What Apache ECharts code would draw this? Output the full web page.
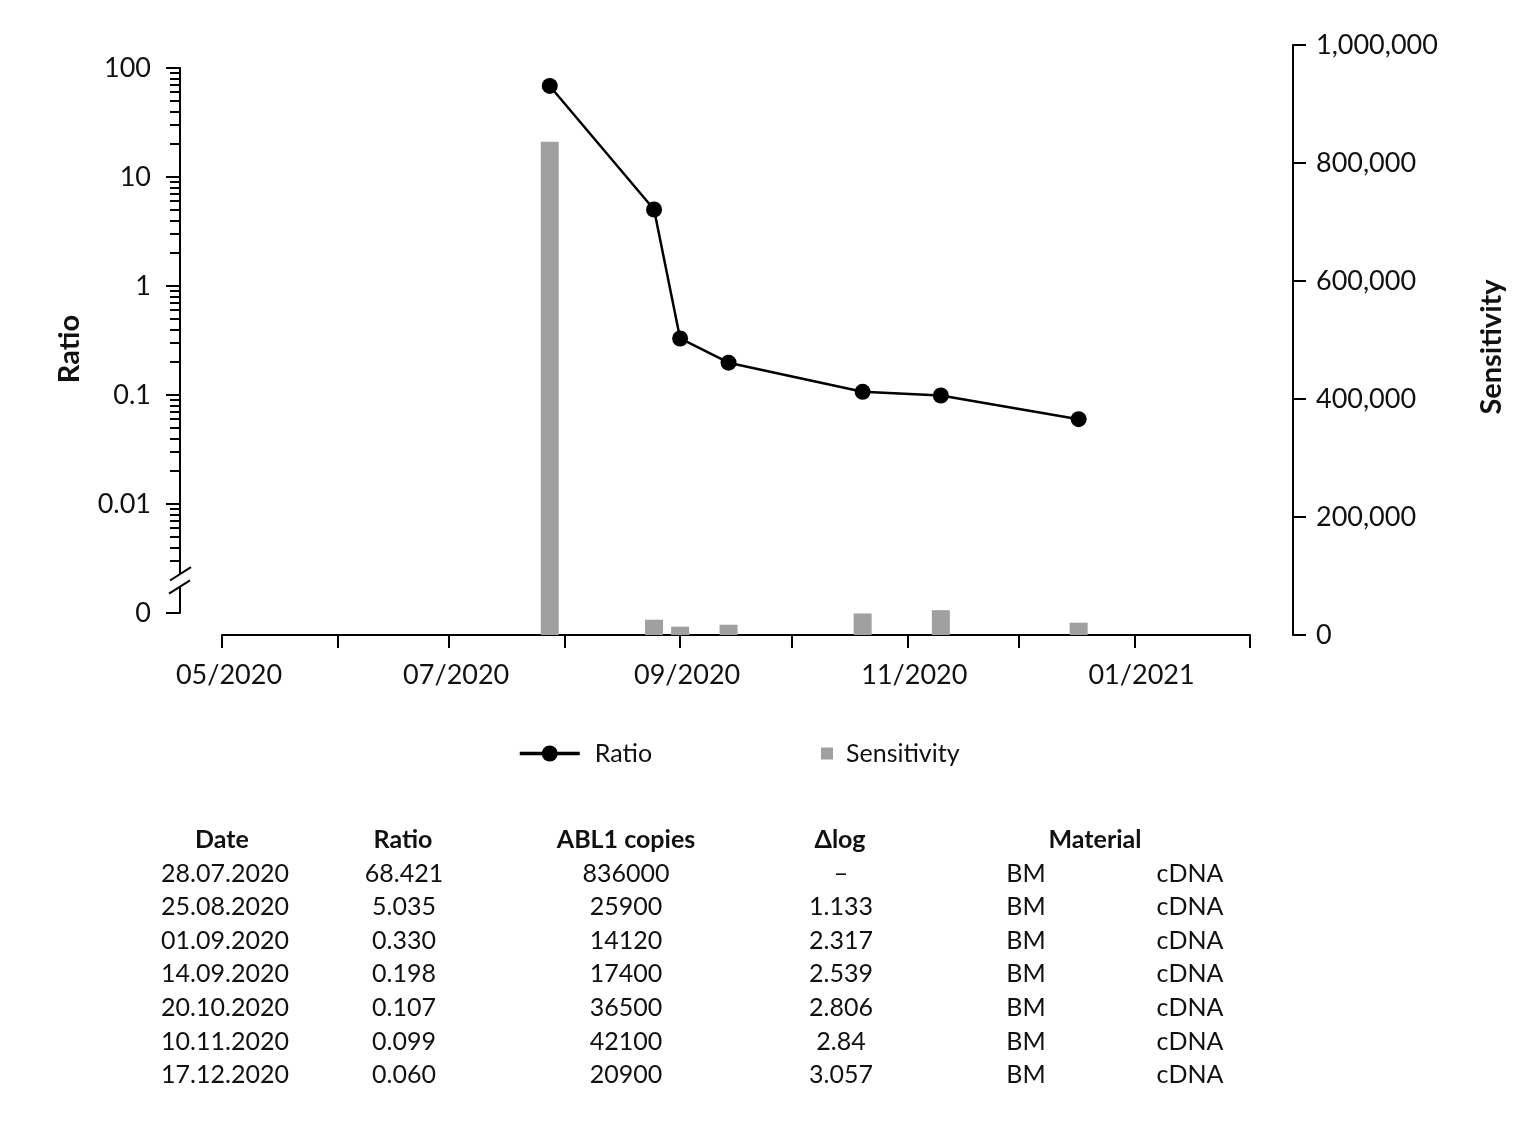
<!DOCTYPE html>
<html>
<head>
<meta charset="utf-8">
<script src="https://cdn.jsdelivr.net/npm/echarts@6/dist/echarts.min.js"></script>
<style>
html,body{margin:0;padding:0;background:#fff;}
#c{width:1540px;height:1129px;}
</style>
</head>
<body>
<div id="c"></div>
<script>
// ---- data ----
const sampleDates = ['2020-07-28','2020-08-25','2020-09-01','2020-09-14','2020-10-20','2020-11-10','2020-12-17'];
const dateLabels = ['28.07.2020','25.08.2020','01.09.2020','14.09.2020','20.10.2020','10.11.2020','17.12.2020'];
const ratioValues = [68.421, 5.035, 0.330, 0.198, 0.107, 0.099, 0.060];
const ratioLabels = ['68.421','5.035','0.330','0.198','0.107','0.099','0.060'];
const sensitivityValues = [836000, 25900, 14120, 17400, 36500, 42100, 20900];
const deltaLogLabels = ['\u2013','1.133','2.317','2.539','2.806','2.84','3.057'];
const materialLabels = ['BM','BM','BM','BM','BM','BM','BM'];
const materialTypeLabels = ['cDNA','cDNA','cDNA','cDNA','cDNA','cDNA','cDNA'];
const tableHeaders = ['Date','Ratio','ABL1 copies','\u0394log','Material'];
const monthTicks = ['2020-05-01','2020-06-01','2020-07-01','2020-08-01','2020-09-01','2020-10-01','2020-11-01','2020-12-01','2021-01-01','2021-02-01'];
const monthLabelTicks = ['2020-05-01','2020-07-01','2020-09-01','2020-11-01','2021-01-01'];
const sensitivityMax = 1000000;
const sensitivityStep = 200000;

// ---- helpers ----
function ts(s){ const p = s.split('-').map(Number); return new Date(p[0], p[1]-1, p[2]).getTime(); }
const xMin = ts(monthTicks[0]);
const xMax = ts(monthTicks[monthTicks.length-1]);
const FONT = 'Lato';
const TXT = '#111';

const chart = echarts.init(document.getElementById('c'), null, {renderer:'canvas'});

const lineData = sampleDates.map((d,i)=>[ts(d), ratioValues[i]]);
const barData = sampleDates.map((d,i)=>[ts(d), sensitivityValues[i]]);

// table graphics
const colX = [225, 404, 626, 841, 1026, 1190];
const headerX = [222, 403, 626, 840, 1095];
const headerY = 840;
const rowY0 = 873.5, rowStep = 33.6;
const graphics = [];
tableHeaders.forEach((h,i)=>{
  graphics.push({type:'text', silent:true, style:{text:h, x:headerX[i], y:headerY, align:'center', verticalAlign:'middle', font:'bold 25px Lato', fill:TXT}});
});
const cols = [dateLabels, ratioLabels, sensitivityValues.map(String), deltaLogLabels, materialLabels, materialTypeLabels];
cols.forEach((col,ci)=>{
  col.forEach((t,ri)=>{
    graphics.push({type:'text', silent:true, style:{text:t, x:colX[ci], y:rowY0+ri*rowStep, align:'center', verticalAlign:'middle', font:'25px Lato', fill:TXT}});
  });
});

const gridLeft = 222, gridRight = 1540-1250;

const option = {
  backgroundColor:'#fff',
  animation:false,
  textStyle:{fontFamily:FONT},
  grid:[
    {left:gridLeft, right:gridRight, top:45, bottom:1129-635, outerBoundsMode:'none', containLabel:false},
    {left:gridLeft, right:gridRight, top:68, bottom:1129-613, outerBoundsMode:'none', containLabel:false}
  ],
  legend:[
    {data:['Ratio'], left:513, top:736, itemWidth:60, itemHeight:20, padding:5,
     lineStyle:{width:3.5, color:'#000'},
     textStyle:{fontFamily:FONT, fontSize:25, color:TXT, padding:[0,0,0,10]}},
    {data:['Sensitivity'], left:816, top:736, itemWidth:12, itemHeight:12, icon:'rect', padding:5,
     textStyle:{fontFamily:FONT, fontSize:25, color:TXT, padding:[0,0,0,8]}}
  ],
  xAxis:[
    {type:'value', gridIndex:0, min:xMin, max:xMax,
     axisLine:{show:true, lineStyle:{color:'#000', width:2}},
     axisTick:{show:true, length:13, lineStyle:{color:'#000', width:2}, customValues:monthTicks.map(ts)},
     axisLabel:{show:true, customValues:monthLabelTicks.map(ts), margin:27, fontSize:27, fontFamily:FONT, color:TXT, padding:[0,0,0,14],
       formatter:function(v){ const d=new Date(v); return String(d.getMonth()+1).padStart(2,'0')+'/'+d.getFullYear(); }},
     splitLine:{show:false}},
    {type:'value', gridIndex:1, min:xMin, max:xMax, show:false, splitLine:{show:false}}
  ],
  yAxis:[
    {type:'value', gridIndex:0, position:'right', offset:43, min:0, max:sensitivityMax, interval:sensitivityStep,
     axisLine:{show:true, lineStyle:{color:'#000', width:2}},
     axisTick:{show:true, length:13, lineStyle:{color:'#000', width:2}},
     axisLabel:{margin:23, fontSize:27, fontFamily:FONT, color:TXT,
       formatter:function(v){ return Number(v).toLocaleString('en-US'); }},
     splitLine:{show:false},
     name:'Sensitivity', nameLocation:'middle', nameRotate:90, nameGap:184,
     nameTextStyle:{fontFamily:FONT, fontSize:29, fontWeight:'bold', color:TXT, padding:[0,14,0,0]}},
    {type:'log', logBase:10, gridIndex:1, position:'left', offset:42, min:0.001, max:100,
     axisLine:{show:true, lineStyle:{color:'#000', width:2}},
     axisTick:{show:true, length:14, lineStyle:{color:'#000', width:2}},
     minorTick:{show:true, splitNumber:9, length:10, lineStyle:{color:'#000', width:2}},
     axisLabel:{margin:29, fontSize:27, fontFamily:FONT, color:TXT,
       formatter:function(v){ if (v < 0.0015) return '0'; return String(+Number(v).toPrecision(3)); }},
     splitLine:{show:false}, minorSplitLine:{show:false},
     name:'Ratio', nameLocation:'middle', nameRotate:90, nameGap:96,
     nameTextStyle:{fontFamily:FONT, fontSize:29, fontWeight:'bold', color:TXT, padding:[0,17,0,0]}}
  ],
  series:[
    {name:'Sensitivity', type:'bar', xAxisIndex:0, yAxisIndex:0, barWidth:18, z:1,
     itemStyle:{color:'#a0a0a0'}, data:barData},
    {name:'Ratio', type:'line', xAxisIndex:1, yAxisIndex:1, z:5,
     symbol:'circle', symbolSize:16, showSymbol:true,
     itemStyle:{color:'#000'}, lineStyle:{color:'#000', width:2.5}, data:lineData}
  ],
  graphic:graphics
};
chart.setOption(option);

// axis break decoration on the left ratio axis (between 0.01 and 0)
const yb = chart.convertToPixel({yAxisIndex:1}, 0.002);
const ax = gridLeft - 42;
chart.setOption({graphic: graphics.concat([
  {type:'rect', silent:true, z:100, shape:{x:ax-16, y:yb-6, width:22, height:12.5}, style:{fill:'#fff'}},
  {type:'line', silent:true, z:101, shape:{x1:ax-10, y1:yb-6+6.3, x2:ax+11, y2:yb-6-7}, style:{stroke:'#000', lineWidth:2}},
  {type:'line', silent:true, z:101, shape:{x1:ax-11, y1:yb+6.5+7, x2:ax+10, y2:yb+6.5-6.3}, style:{stroke:'#000', lineWidth:2}}
])});
</script>
</body>
</html>
